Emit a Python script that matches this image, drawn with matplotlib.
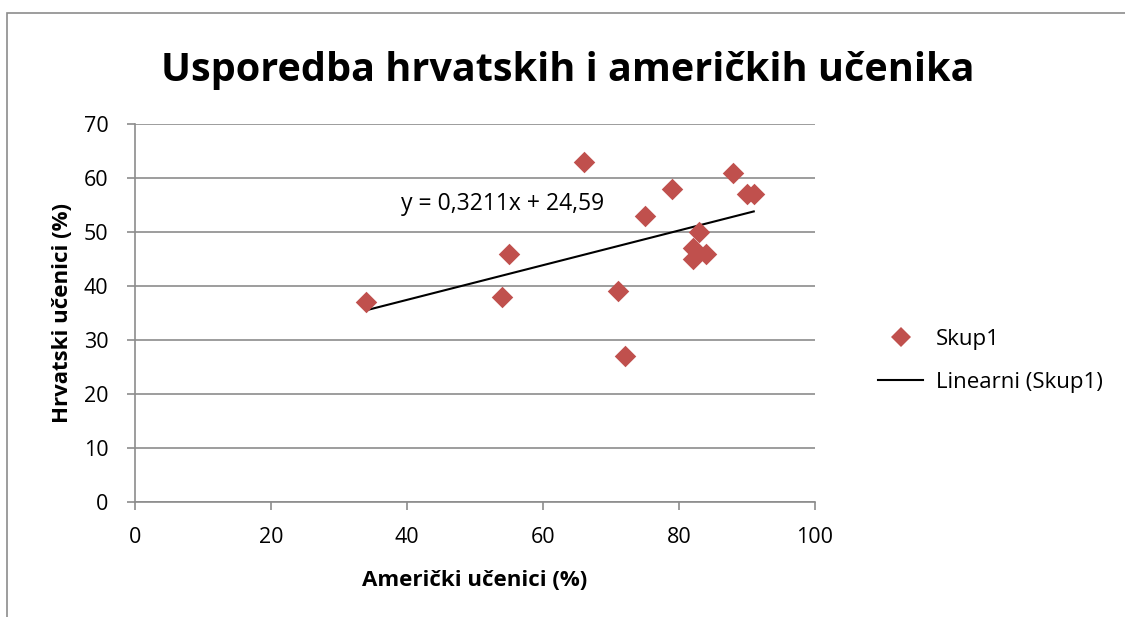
import matplotlib.pyplot as plt
import numpy as np
from matplotlib.patches import Rectangle
from matplotlib.lines import Line2D

plt.rcParams['font.family'] = ['Open Sans', 'DejaVu Sans']

# Data
americki = [34, 54, 55, 66, 71, 72, 75, 79, 83, 82, 82, 84, 88, 90, 91]
hrvatski = [37, 38, 46, 63, 39, 27, 53, 58, 50, 47, 45, 46, 61, 57, 57]

x = np.array(americki)
y = np.array(hrvatski)
k, b = np.polyfit(x, y, 1)
xt = np.array([x.min(), x.max()])

red = "#C0504D"

fig = plt.figure(figsize=(11.25, 6.17), dpi=100)
ax = fig.add_axes([0.12, 0.1864, 0.6044, 0.6126])

ax.scatter(x, y, marker="D", s=120, color=red, zorder=3, linewidths=0)
ax.plot(xt, k * xt + b, color="black", lw=1.5, zorder=2)
eq = "y = " + f"{k:.4f}".replace(".", ",") + "x + " + f"{b:.2f}".replace(".", ",")
ax.text(54.0, 55.2, eq, fontsize=16.5, ha="center", va="center")

ax.set_xlim(0, 100)
ax.set_ylim(0, 70)
ax.set_xticks(range(0, 101, 20))
ax.set_yticks(range(0, 71, 10))
ax.yaxis.grid(True, color="#8C8C8C", lw=1.2)
ax.set_axisbelow(True)
for s in ["top", "right"]:
    ax.spines[s].set_visible(False)
for s in ["left", "bottom"]:
    ax.spines[s].set_color("#8C8C8C")
    ax.spines[s].set_linewidth(1.2)
ax.tick_params(colors="#8C8C8C", labelcolor="black", labelsize=15.5, length=6, width=1.2,
               direction="out")
ax.tick_params(axis="y", pad=13)
ax.tick_params(axis="x", pad=12)

ax.set_xlabel("Američki učenici (%)", fontsize=16, fontweight="bold", labelpad=16)
ax.set_ylabel("Hrvatski učenici (%)", fontsize=16, fontweight="bold", labelpad=8)
fig.text(0.505, 0.885, "Usporedba hrvatskih i američkih učenika", fontsize=28.5,
         fontweight="bold", ha="center", va="center")

handles = [Line2D([], [], marker="D", ls="none", color=red, markersize=10, markeredgewidth=0),
           Line2D([], [], color="black", lw=1.5)]
fig.legend(handles, ["Skup1", "Linearni (Skup1)"], loc="center left",
           bbox_to_anchor=(0.763, 0.415), frameon=False, fontsize=16,
           handlelength=2.0, handletextpad=0.6, labelspacing=1.0)

fig.patches.append(Rectangle((0.006, -0.1), 1.1, 1.079, transform=fig.transFigure,
                             fill=False, edgecolor="#8C8C8C", lw=1.2))

fig.savefig("out.png", dpi=100)
